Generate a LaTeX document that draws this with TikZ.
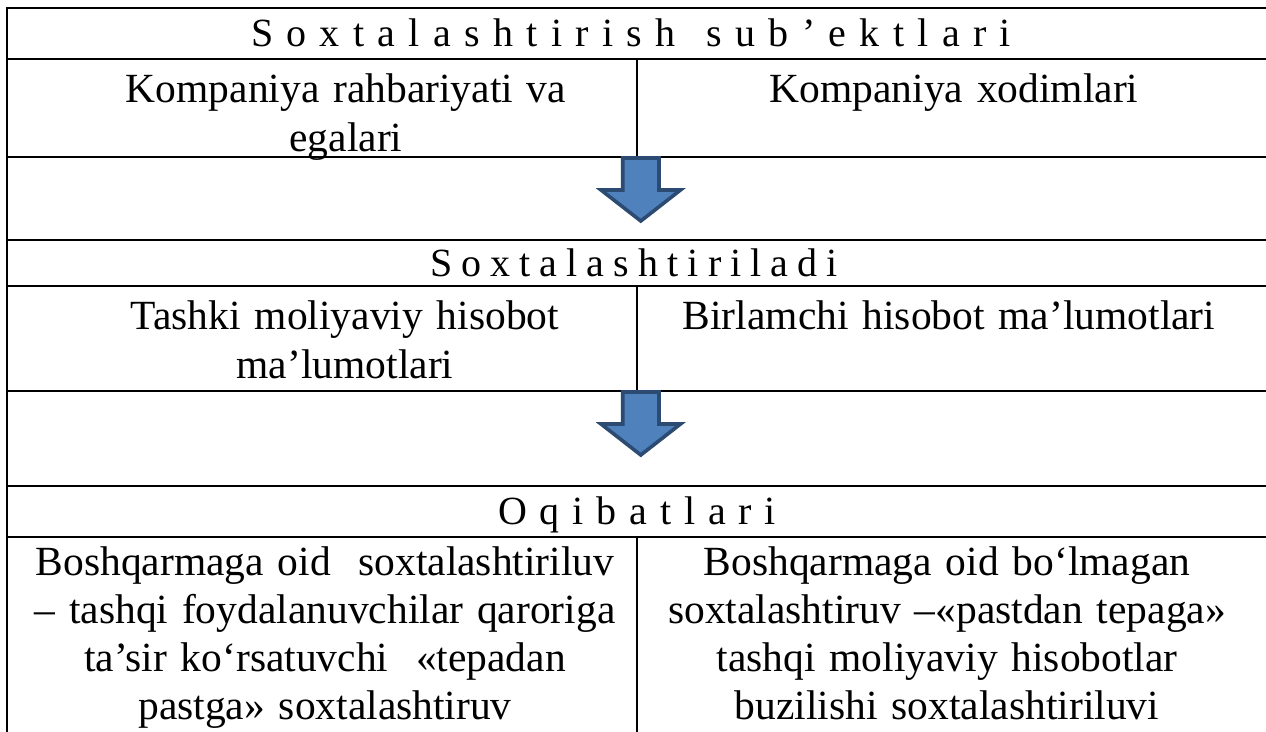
\documentclass[tikz,border=0pt]{standalone}
\usepackage{fontspec}
\setmainfont{Liberation Serif}
\definecolor{arrowfill}{HTML}{4F81BD}
\definecolor{arrowline}{HTML}{2C4B72}
\newcommand{\bodyfont}{\fontsize{41.5}{49}\selectfont}
\newcommand{\tightfont}{\fontsize{41.5}{48.3}\selectfont}
\newcommand{\headfont}{\fontsize{40}{46}\selectfont}
\newcommand{\wgap}{\hspace{\stretch{2.3}}}
\begin{document}
\begin{tikzpicture}[x=1pt,y=-1pt,
  rule/.style={line width=2.7pt},
  cell/.style={inner sep=0pt, anchor=base, align=center, text width=620pt, font=\bodyfont},
  head/.style={inner sep=0pt, anchor=base, font=\headfont},
  flow/.style={fill=arrowfill, draw=arrowline, line width=3.6pt, line join=miter}]
\useasboundingbox (0,0) rectangle (1266,731);

% table frame and row rules
\draw[rule] (1275,8) -- (7,8) -- (7,740);
\foreach \y in {59,157,240,286,391,486,537}
  \draw[rule] (7,\y) -- (1275,\y);
% column dividers
\draw[rule] (637,59) -- (637,157);
\draw[rule] (637,286) -- (637,391);
\draw[rule] (637,537) -- (637,740);

% section headings (letter-spaced)
\node[head] (h1) at (631,46) {\makebox[760pt][s]{S\hfill o\hfill x\hfill t\hfill a\hfill l\hfill a\hfill s\hfill h\hfill t\hfill i\hfill r\hfill i\hfill s\hfill h\wgap s\hfill u\hfill b\hfill ’\hfill e\hfill k\hfill t\hfill l\hfill a\hfill r\hfill i}};
\node[head] (h2) at (634,276) {\makebox[408pt][s]{S\hfill o\hfill x\hfill t\hfill a\hfill l\hfill a\hfill s\hfill h\hfill t\hfill i\hfill r\hfill i\hfill l\hfill a\hfill d\hfill i}};
\node[head] (h3) at (637,524) {\makebox[278pt][s]{O\hfill q\hfill i\hfill b\hfill a\hfill t\hfill l\hfill a\hfill r\hfill i}};

% subjects
\node[cell] (s1) at (346,102) {Kompaniya rahbariyati va\\egalari};
\node[cell] (s2) at (954,102) {Kompaniya xodimlari};

% falsified data
\node[cell] (d1) at (345,329) {Tashki moliyaviy hisobot\\ma’lumotlari};
\node[cell] (d2) at (949,329) {Birlamchi hisobot ma’lumotlari};

% consequences
\node[cell, font=\tightfont] (c1) at (325,575) {Boshqarmaga oid\ \ soxtalashtiriluv\\– tashqi foydalanuvchilar qaroriga\\ta’sir ko‘rsatuvchi\ \ «tepadan\\pastga» soxtalashtiruv};
\node[cell, font=\tightfont] (c2) at (947,575) {Boshqarmaga oid bo‘lmagan\\soxtalashtiruv –«pastdan tepaga»\\tashqi moliyaviy hisobotlar\\buzilishi soxtalashtiriluvi};

% block arrows between sections
\draw[flow] (622.7,158) -- (659,158) -- (659,190) -- (680.5,190) -- (640.8,221) -- (601,190) -- (622.7,190) -- cycle;
\draw[flow] (622.7,392) -- (659,392) -- (659,424) -- (680.5,424) -- (640.8,455) -- (601,424) -- (622.7,424) -- cycle;
\end{tikzpicture}
\end{document}
